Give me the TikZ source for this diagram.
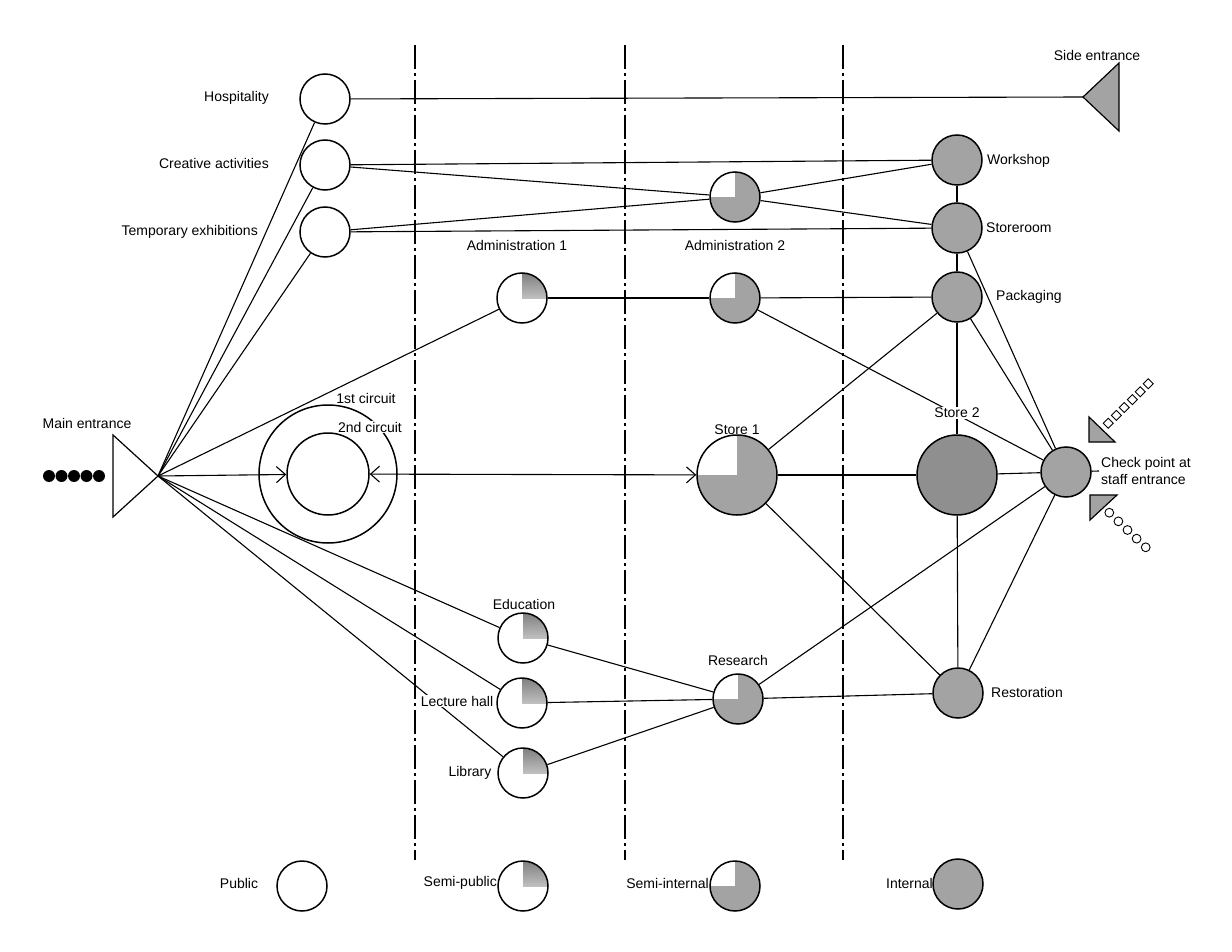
\documentclass[tikz,border=0pt]{standalone}
\usepackage{fontspec}
\setmainfont{Liberation Sans}
\usetikzlibrary{arrows.meta}
\definecolor{shade}{gray}{0.64}
\definecolor{shadedark}{gray}{0.56}
\begin{document}
\begin{tikzpicture}[x=1pt,y=-1pt,
  lbl/.style={font=\fontsize{14}{17}\selectfont, inner sep=1pt},
  wlbl/.style={lbl, fill=white},
  room/.style={circle, draw, line width=1.5pt, minimum size=50pt, inner sep=0pt},
  big/.style={minimum size=80pt},
  public/.style={room, fill=white},
  semipublic/.style={room, fill=white, path picture={\fill[shade] (path picture bounding box.center) rectangle (path picture bounding box.north east);}},
  semiinternal/.style={room, fill=shade, path picture={\fill[white] (path picture bounding box.center) rectangle (path picture bounding box.north west);}},
  internal/.style={room, fill=shade},
  conn/.style={line width=1.1pt},
  divider/.style={line width=1.2pt, dash pattern=on 24pt off 4pt on 3pt off 4pt},
  arr/.style={conn, -{Straight Barb[length=9pt,width=16pt,line width=1.1pt]}},
  darr/.style={conn, {Straight Barb[length=9pt,width=16pt,line width=1.1pt]}-{Straight Barb[length=9pt,width=16pt,line width=1.1pt]}},
  ring/.style={circle, draw, line width=1.5pt, inner sep=0pt},
  entry/.style={draw, line width=1.2pt, fill=shade, line join=miter}
]
\useasboundingbox (0,0) rectangle (1232,952);
\fill[white] (0,0) rectangle (1232,952);

% dividers
\draw[divider] (415,45) -- (415,860);
\draw[divider] (625,45) -- (625,860);
\draw[divider] (843,45) -- (843,860);

% main entrance
\foreach \x in {49,61.5,74,86.5,99} \fill (\x,476) circle (6);
\draw[line width=1.2pt, line join=miter] (113,435) -- (113,517) -- (158,476) -- cycle;
\coordinate (mainapex) at (158,476);

% side entrance
\draw[entry] (1119,63) -- (1083,97) -- (1119,131) -- cycle;
\coordinate (sideapex) at (1083,97);

% staff entrance markers
\draw[entry] (1089,417) -- (1089,442) -- (1115,442) -- cycle;
\draw[entry] (1090,495) -- (1117,495) -- (1090,520) -- cycle;
\foreach \i in {0,...,5} \draw[line width=0.9pt, fill=white] ({1108.3+8*\i},{423.3-7.9*\i}) ++(0,-5) -- ++(5,5) -- ++(-5,5) -- ++(-5,-5) -- cycle;
\foreach \i in {0,...,4} \draw[line width=0.9pt, fill=white] ({1109.3+9.1*\i},{512.7+8.65*\i}) circle (4.4);

% circuits
\node[ring, minimum size=138pt] (outer) at (328,474) {};
\node[ring, minimum size=82pt] (inner) at (328,474) {};

% rooms
\node[public] (hosp) at (325,99) {};
\node[public] (creat) at (325,165) {};
\node[public] (temp) at (325,232) {};
\node[semipublic] (adm1) at (522,298) {};
\node[semiinternal] (admT) at (735,197) {};
\node[semiinternal] (adm2) at (735,298) {};
\node[internal] (work) at (957,160) {};
\node[internal] (storeR) at (957,228) {};
\node[internal] (pack) at (957,297) {};
\node[semiinternal, big] (store1) at (737,475) {};
\node[internal, big, fill=shadedark] (store2) at (957,475) {};
\node[internal] (check) at (1066,472) {};
\node[internal] (restor) at (958,693) {};
\node[semiinternal] (research) at (738,699) {};
\node[semipublic] (edu) at (523,638) {};
\node[semipublic] (lect) at (522,703) {};
\node[semipublic] (lib) at (523,773) {};
\coordinate (checktick) at (1099,471);

% legend circles
\node[public] (lpub) at (302,886) {};
\node[semipublic] (lsp) at (523,886) {};
\node[semiinternal] (lsi) at (735,886) {};
\node[internal] (lint) at (958,884) {};

% connectors
\begin{scope}[conn]
\draw (hosp) -- (sideapex);
\draw (creat) -- (work);
\draw (creat) -- (admT);
\draw (admT) -- (storeR);
\draw (temp) -- (admT);
\draw (admT) -- (work);
\draw (temp) -- (storeR);
\draw (work) -- (storeR);
\draw (storeR) -- (pack);
\draw (storeR) -- (check);
\draw (pack) -- (check);
\draw (pack) -- (store2);
\draw (pack) -- (store1);
\draw (adm1) -- (adm2);
\draw (adm2) -- (pack);
\draw (adm2) -- (check);
\draw (store1) -- (store2);
\draw (store2) -- (check);
\draw (store2) -- (restor);
\draw (store1) -- (restor);
\draw (research) -- (check);
\draw (research) -- (restor);
\draw (restor) -- (check);
\draw (edu) -- (research);
\draw (lect) -- (research);
\draw (lib) -- (research);
\draw (check) -- (checktick);
\draw (mainapex) -- (hosp);
\draw (mainapex) -- (creat);
\draw (mainapex) -- (temp);
\draw (mainapex) -- (adm1);
\draw (mainapex) -- (edu);
\draw (mainapex) -- (lect);
\draw (mainapex) -- (lib);
\end{scope}
\draw[arr] (mainapex) -- (inner);
\draw[darr] (inner) -- (store1);

% labels
\node[lbl, anchor=east] (tHosp) at (270,98) {Hospitality};
\node[lbl, anchor=east] (tCreat) at (270,163) {Creative activities};
\node[lbl, anchor=east] (tTemp) at (259,232) {Temporary exhibitions};
\node[lbl] (tAdm1) at (517,245) {Administration 1};
\node[lbl] (tAdm2) at (735,245) {Administration 2};
\node[lbl, anchor=west] (tWork) at (986,161) {Workshop};
\node[lbl, anchor=west] (tStoreR) at (985,228) {Storeroom};
\node[lbl, anchor=west] (tPack) at (995,297) {Packaging};
\node[lbl] (tStore1) at (737,430) {Store 1};
\node[wlbl] (tStore2) at (957,413) {Store 2};
\node[lbl] (tC1) at (366,398) {1st circuit};
\node[wlbl] (tC2) at (370,427) {2nd circuit};
\node[lbl] (tMain) at (87,423) {Main entrance};
\node[lbl, anchor=west, align=left] (tCheck) at (1100,471) {Check point at\\staff entrance};
\node[lbl] (tEdu) at (524,604) {Education};
\node[lbl] (tRes) at (738,660) {Research};
\node[lbl, anchor=west] (tRestor) at (990,692) {Restoration};
\node[wlbl] (tLect) at (457,701) {Lecture hall};
\node[lbl] (tLib) at (470,773) {Library};
\node[lbl] (tSide) at (1097,55) {Side entrance};
\node[lbl] (tPub) at (239,883) {Public};
\node[lbl, anchor=east] (tSP) at (498,883) {Semi-public};
\node[lbl, anchor=east] (tSI) at (710,883) {Semi-internal};
\node[lbl, anchor=east] (tInt) at (934,883) {Internal};
\end{tikzpicture}
\end{document}
